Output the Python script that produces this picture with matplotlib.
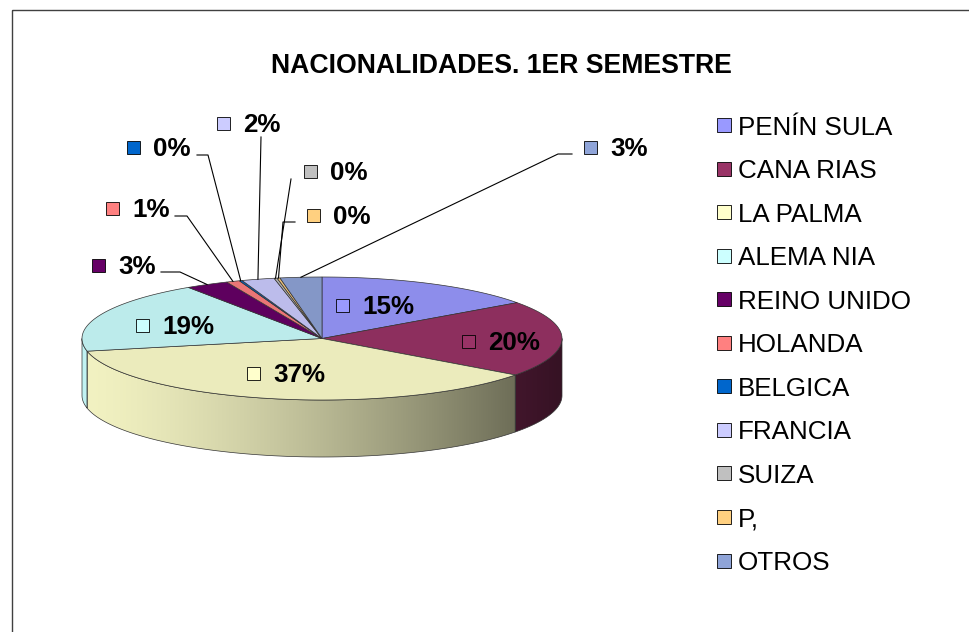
import numpy as np
import matplotlib
matplotlib.use("Agg")
import matplotlib.pyplot as plt
from matplotlib.patches import Polygon, Rectangle
from matplotlib.colors import to_rgb

plt.rcParams['font.family'] = ['Liberation Sans', 'DejaVu Sans']

# ---------------- data ----------------
title = "NACIONALIDADES. 1ER SEMESTRE"
categories = ["PENÍN SULA", "CANA RIAS", "LA PALMA", "ALEMA NIA", "REINO UNIDO",
              "HOLANDA", "BELGICA", "FRANCIA", "SUIZA", "P,", "OTROS"]
values = [15.1, 20.0, 36.6, 18.9, 2.9, 0.9, 0.2, 2.2, 0.2, 0.2, 2.8]
colors = ["#9999FF", "#993366", "#FFFFCC", "#CCFFFF", "#660066", "#FF8080",
          "#0066CC", "#CCCCFF", "#C0C0C0", "#FFD080", "#8FA4D8"]

# ---------------- layout ----------------
W, H = 970, 632
CX, CY, RX, RY, DEPTH = 322, 338.5, 240, 61.5, 57
FS = 18.7
# label text start x, centre y (pixels)
label_pos = [(362, 305), (488, 341), (273, 373), (162, 325), (118, 265),
             (132, 208), (153, 147), (243, 123), (330, 171), (333, 215), (610, 147)]
# leader line starting points (None = inside label)
leader_pts = [None, None, None, None,
              [(161, 272), (180, 272)],
              [(175, 216), (187, 216)],
              [(197, 155), (208, 155)],
              [(261, 137)],
              [(291, 179)],
              [(295, 222), (283, 222)],
              [(572, 154), (558, 154)]]

fig = plt.figure(figsize=(W / 100, H / 100), dpi=100)
ax = fig.add_axes([0, 0, 1, 1])


def pt(theta_deg):
    t = np.radians(theta_deg)
    return CX + RX * np.sin(t), CY - RY * np.cos(t)


vals = np.array(values, dtype=float)
fr = vals / vals.sum()
ends = np.cumsum(fr) * 360
starts = np.concatenate([[0], ends[:-1]])

# ---------------- sides ----------------
xg = np.linspace(CX - RX, CX + RX, 500)
tg = (xg - (CX - RX)) / (2 * RX)
fac = 0.95 - 0.6 * tg ** 1.4
for i in range(len(vals)):
    a, b = max(starts[i], 90), min(ends[i], 270)
    if b <= a:
        continue
    th = np.linspace(a, b, 120)
    xs, ys = pt(th)
    verts = list(zip(xs, ys)) + list(zip(xs[::-1], ys[::-1] + DEPTH))
    base = np.array(to_rgb(colors[i]))
    img = np.clip(base[None, None, :] * fac[None, :, None], 0, 1)
    im = ax.imshow(img, extent=(CX - RX, CX + RX, CY + RY + DEPTH + 3, CY - 3),
                   aspect='auto', interpolation='bilinear', zorder=1)
    poly = Polygon(verts, closed=True, facecolor='none', edgecolor='#333333',
                   lw=0.5, zorder=2)
    ax.add_patch(poly)
    im.set_clip_path(poly)

# ---------------- top faces ----------------
for i in range(len(vals)):
    n = max(3, int((ends[i] - starts[i]) * 2))
    th = np.linspace(starts[i], ends[i], n)
    xs, ys = pt(th)
    verts = [(CX, CY)] + list(zip(xs, ys))
    base = np.array(to_rgb(colors[i])) * 0.92
    ax.add_patch(Polygon(verts, closed=True, facecolor=base, edgecolor='#333333',
                         lw=0.5, zorder=3))

# ---------------- labels ----------------
for i in range(len(vals)):
    tx, ty = label_pos[i]
    ax.add_patch(Rectangle((tx - 26, ty - 6.5), 13, 13, facecolor=colors[i],
                           edgecolor='black', lw=0.6, zorder=5))
    ax.text(tx, ty + 9.3, f"{vals[i] / vals.sum() * 100:.0f}%", ha='left',
            va='baseline', fontsize=FS, fontweight='bold', zorder=6)
    if leader_pts[i] is not None:
        mid = (starts[i] + ends[i]) / 2
        axp, ayp = pt(mid)
        pts = leader_pts[i] + [(axp, ayp)]
        ax.plot([p[0] for p in pts], [p[1] for p in pts], color='black',
                lw=0.8, zorder=4)

# ---------------- legend ----------------
for i, name in enumerate(categories):
    yc = 125 + 43.55 * i
    ax.add_patch(Rectangle((717, yc - 7), 14, 14, facecolor=colors[i],
                           edgecolor='black', lw=0.6, zorder=5))
    ax.text(738, yc + 9.6, name, ha='left', va='baseline', fontsize=FS, zorder=6)

# ---------------- title & border ----------------
ax.text(501, 73, title, ha='center', va='baseline', fontsize=19.2,
        fontweight='bold')
ax.add_patch(Rectangle((12, 10), 980, 640, facecolor='none', edgecolor='#404040',
                       lw=1.0, zorder=0))

ax.set_xlim(0, W)
ax.set_ylim(H, 0)
ax.axis('off')
fig.savefig("out.png", dpi=100)
